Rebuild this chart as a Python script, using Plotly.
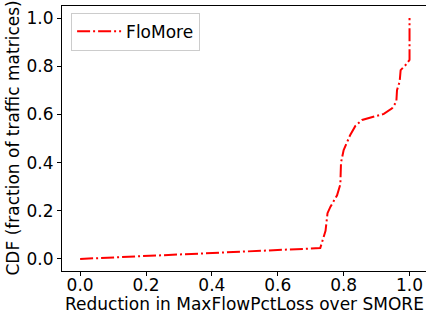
import plotly.graph_objects as go

reduction = [0.0, 0.729, 0.745, 0.751, 0.76, 0.78, 0.79, 0.792, 0.80, 0.82, 0.836,
             0.856, 0.922, 0.947, 0.96, 0.962, 0.97, 0.973, 0.988, 1.0, 1.0]
cdf = [0.0, 0.045, 0.117, 0.19, 0.217, 0.264, 0.31, 0.40, 0.452, 0.515, 0.553,
       0.577, 0.602, 0.625, 0.653, 0.701, 0.736, 0.784, 0.805, 0.826, 1.0]
series_name = "FloMore"
tick_vals = [0.0, 0.2, 0.4, 0.6, 0.8, 1.0]
tick_text = ["0.0", "0.2", "0.4", "0.6", "0.8", "1.0"]
x_title = "Reduction in MaxFlowPctLoss over SMORE"
y_title = "CDF (fraction of traffic matrices)"

font = "DejaVu Sans"

fig = go.Figure()
fig.add_trace(go.Scatter(
    x=reduction, y=cdf, mode="lines", name=series_name,
    line=dict(color="#ff0000", width=2, dash="13px,3px,2px,3px"),
))

axis_common = dict(
    showgrid=False, zeroline=False, showline=True, linecolor="black", linewidth=1,
    ticks="outside", ticklen=4, tickcolor="black", automargin=False,
    tickfont=dict(family=font, size=17, color="black"),
    tickvals=tick_vals, ticktext=tick_text,
)

fig.update_layout(
    width=426, height=318,
    margin=dict(l=62, r=0, t=6, b=47),
    paper_bgcolor="white", plot_bgcolor="white",
    showlegend=True,
    legend=dict(
        x=0.025, y=0.975, xanchor="left", yanchor="top",
        bgcolor="rgba(255,255,255,0.8)", bordercolor="#cccccc", borderwidth=1,
        font=dict(family=font, size=17, color="black"),
        itemwidth=44, tracegroupgap=0,
    ),
    xaxis=dict(range=[-0.055, 1.05], mirror=True, ticklabelstandoff=-5, **axis_common),
    yaxis=dict(range=[-0.05, 1.05], **axis_common),
    annotations=[
        dict(text=x_title, xref="paper", yref="paper", x=0.5, y=0, yshift=-33,
             xanchor="center", yanchor="middle", showarrow=False,
             font=dict(family=font, size=17, color="black")),
        dict(text=y_title, xref="paper", yref="paper", x=0, y=0.5, xshift=-50,
             xanchor="center", yanchor="middle", showarrow=False, textangle=-90,
             font=dict(family=font, size=17, color="black")),
    ],
)

fig.write_html("out.html", config={"displayModeBar": False},
               post_script="document.body.style.margin='0';")
